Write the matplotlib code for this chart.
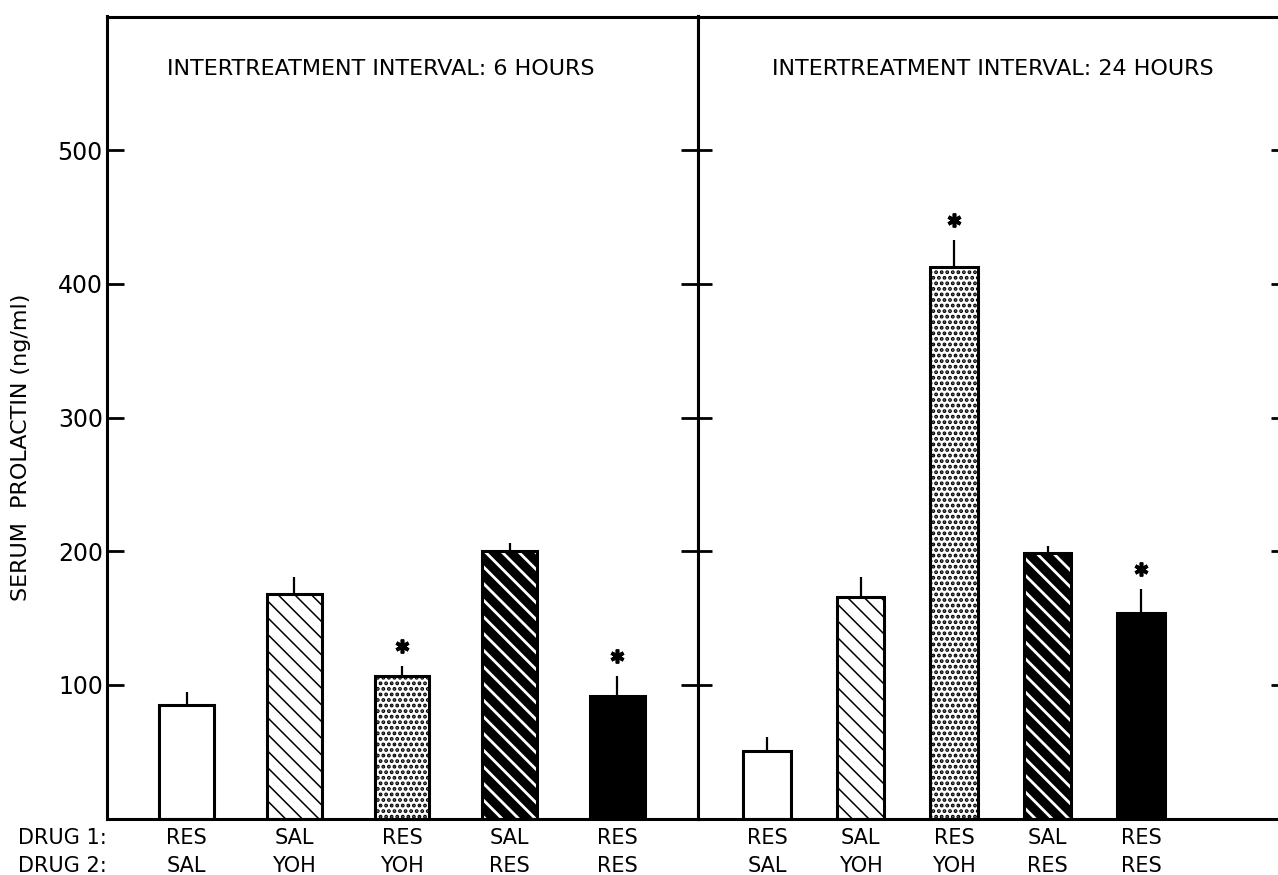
import matplotlib
matplotlib.use("Agg")
import matplotlib.pyplot as plt

# Serum prolactin (ng/ml)
groups = ["RES\nSAL", "SAL\nYOH", "RES\nYOH", "SAL\nRES", "RES\nRES"]
means_6h = [85, 168, 107, 200, 92]
sem_6h = [10, 13, 7, 6, 15]
star_6h = [False, False, True, False, True]
means_24h = [51, 166, 413, 199, 154]
sem_24h = [10, 15, 20, 5, 18]
star_24h = [False, False, True, False, True]
yticks = [100, 200, 300, 400, 500]

plt.rcParams['font.family'] = ['DejaVu Sans']
plt.rcParams['hatch.linewidth'] = 1.0

fig = plt.figure(figsize=(12.78, 8.75), dpi=100)
bottom = 56.3 / 875
height = 802.2 / 875
ax1 = fig.add_axes([107 / 1278, bottom, 591 / 1278, height])
ax2 = fig.add_axes([698 / 1278, bottom, 587 / 1278, height])


def hatch_lw(bars, lw):
    for p in bars:
        if hasattr(p, "set_hatch_linewidth"):
            p.set_hatch_linewidth(lw)


def draw_panel(ax, means, sems, stars, title, title_x, xmax):
    x = list(range(len(means)))
    w = 0.51
    # open bar
    ax.bar(x[0], means[0], w, color="white", edgecolor="black", linewidth=2.2, zorder=2)
    # light hatch
    b = ax.bar(x[1], means[1], w, color="white", edgecolor="black",
               hatch="\\\\", linewidth=2.2, zorder=2)
    hatch_lw(b, 1.1)
    # stipple
    b = ax.bar(x[2], means[2], w, color="white", edgecolor="black",
               hatch="...", linewidth=2.2, zorder=2)
    hatch_lw(b, 1.9)
    # black bar with white stripes
    b = ax.bar(x[3], means[3], w, color="black", edgecolor="white",
               hatch="\\\\", linewidth=0, zorder=2)
    hatch_lw(b, 2.0)
    ax.bar(x[3], means[3], w, fill=False, edgecolor="black", linewidth=2.2, zorder=3)
    # solid black
    ax.bar(x[4], means[4], w, color="black", edgecolor="black", linewidth=2.2, zorder=2)

    for i, m in enumerate(means):
        ax.vlines(x[i], m, m + sems[i], color="black", linewidth=1.6, zorder=1)
        if stars[i]:
            ax.plot(x[i], m + sems[i] + 15, marker=(6, 2, 0), markersize=10,
                    markeredgewidth=2.6, color="black", zorder=3)
    ax.set_xlim(-0.74, xmax)
    ax.set_ylim(0, 600)
    ax.set_xticks(x)
    ax.set_xticklabels(groups, fontsize=15, linespacing=1.5)
    ax.tick_params(axis="x", length=0, pad=7)
    ax.set_yticks(yticks)
    ax.text(title_x, 0.935, title, transform=ax.transAxes, ha="center",
            va="center", fontsize=16)
    for s in ax.spines.values():
        s.set_linewidth(2.2)


draw_panel(ax1, means_6h, sem_6h, star_6h,
           "INTERTREATMENT INTERVAL: 6 HOURS", 0.464, 4.75)
draw_panel(ax2, means_24h, sem_24h, star_24h,
           "INTERTREATMENT INTERVAL: 24 HOURS", 0.503, 5.54)

ax1.set_yticklabels([str(t) for t in yticks], fontsize=17)
ax1.tick_params(axis="y", direction="in", length=12, width=2.0, pad=3,
                left=True, right=True)
ax2.tick_params(axis="y", direction="in", length=10, width=2.0,
                left=True, right=True, labelleft=False)

fig.text(21 / 1278, 1 - 447 / 875, "SERUM  PROLACTIN (ng/ml)", fontsize=16,
         rotation=90, ha="center", va="center")
fig.text(18 / 1278, 1 - 838 / 875, "DRUG 1:", fontsize=15, va="center")
fig.text(18 / 1278, 1 - 866 / 875, "DRUG 2:", fontsize=15, va="center")

fig.savefig("out.png", dpi=100)
